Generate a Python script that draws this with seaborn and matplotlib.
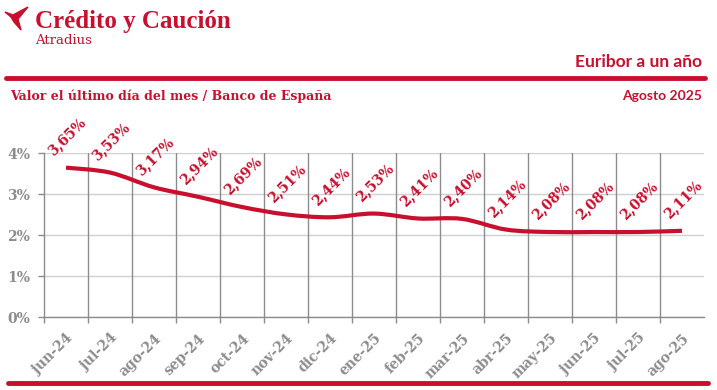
import numpy as np
import seaborn as sns
import matplotlib.pyplot as plt
from matplotlib.path import Path
from matplotlib.patches import PathPatch, Polygon
from matplotlib.lines import Line2D

sns.set_theme(style="white")

meses = ["jun-24", "jul-24", "ago-24", "sep-24", "oct-24", "nov-24", "dic-24", "ene-25",
         "feb-25", "mar-25", "abr-25", "may-25", "jun-25", "jul-25", "ago-25"]
euribor = [3.65, 3.53, 3.17, 2.94, 2.69, 2.51, 2.44, 2.53, 2.41, 2.40, 2.14, 2.08, 2.08, 2.08, 2.11]
y_ticks = [0, 1, 2, 3, 4]

rojo = "#c8102e"
gris = "#8c8c8c"
slab = "DejaVu Serif"
sans = "Lato"

W, H = 717, 390
fig = plt.figure(figsize=(W / 100, H / 100), dpi=100)
ax = fig.add_axes([44 / W, (H - 317.3) / H, 660 / W, 164 / H])

x = np.arange(len(meses))
# smoothed line (bezier, like a spreadsheet "smoothed line")
pts = np.column_stack([x, euribor]).astype(float)
ext = np.vstack([pts[0], pts, pts[-1]])
verts, codes = [pts[0]], [Path.MOVETO]
for i in range(len(pts) - 1):
    p0, p1, p2, p3 = ext[i], ext[i + 1], ext[i + 2], ext[i + 3]
    verts += [p1 + (p2 - p0) / 6, p2 - (p3 - p1) / 6, p2]
    codes += [Path.CURVE4] * 3
ax.add_patch(PathPatch(Path(verts, codes), fill=False, edgecolor=rojo, lw=3,
                       capstyle="butt", zorder=4))

for xi, v in zip(x, euribor):
    ax.annotate(f"{v:.2f}%".replace(".", ","), (xi, v), xytext=(1, 31),
                textcoords="offset pixels", rotation=45, ha="center", va="center",
                color=rojo, fontsize=10, fontweight="heavy", family=slab,
                annotation_clip=False, zorder=5)

ax.set_xlim(-0.5, len(meses) - 0.5)
ax.set_ylim(0, 4)
ax.set_yticks(y_ticks)
ax.set_yticklabels([f"{t}%" for t in y_ticks])
ax.set_xticks(x)
ax.set_xticklabels(meses, rotation=45, ha="right", rotation_mode="anchor")
ax.set_xticks(np.arange(-0.5, len(meses) - 0.5, 1), minor=True)

ax.yaxis.grid(True, color="#d0d0d0", lw=1)
for b in np.arange(0.5, len(meses) - 1, 1):
    ax.axvline(b, color=gris, lw=1, zorder=2)

sns.despine(ax=ax, top=True, right=True)
for s in ["left", "bottom"]:
    ax.spines[s].set_color(gris)
    ax.spines[s].set_linewidth(1)
ax.tick_params(axis="x", which="major", length=0, pad=10)
ax.tick_params(axis="x", which="minor", length=4, color=gris, width=1, bottom=True)
ax.tick_params(axis="y", length=4, color=gris, width=1, left=True, pad=6)
for lab in ax.get_xticklabels() + ax.get_yticklabels():
    lab.set_family(slab)
    lab.set_fontweight("bold")
    lab.set_color(gris)
    lab.set_fontsize(10)

# header
fig.text(35 / W, 1 - 28 / H, "Crédito y Caución", family="Liberation Serif",
         fontweight="bold", fontsize=18, color=rojo, va="baseline")
fig.text(35 / W, 1 - 44 / H, "Atradius", family=slab, fontsize=9.5,
         color=rojo, va="baseline")
logo = [(5, 12), (13, 15), (28, 7), (18, 19), (21, 30), (14, 22), (11, 17)]
fig.patches.append(Polygon([(px / W, 1 - py / H) for px, py in logo], closed=True,
                           transform=fig.transFigure, color=rojo, figure=fig))
fig.text(702 / W, 1 - 67 / H, "Euribor a un año", family=sans, fontweight="bold",
         fontsize=12.5, color=rojo, ha="right", va="baseline")
fig.lines.append(Line2D([6 / W, 705 / W], [1 - 78 / H, 1 - 78 / H], lw=3.5,
                        color=rojo, transform=fig.transFigure, figure=fig))
fig.text(10 / W, 1 - 100 / H, "Valor el último día del mes / Banco de España",
         family=slab, fontweight="bold", fontsize=9, color=rojo, va="baseline")
fig.text(702 / W, 1 - 100 / H, "Agosto 2025", family=sans, fontweight="bold",
         fontsize=10, color=rojo, ha="right", va="baseline")
fig.lines.append(Line2D([8 / W, 708 / W], [1 - 383 / H, 1 - 383 / H], lw=3.5,
                        color=rojo, transform=fig.transFigure, figure=fig))

fig.savefig("out.png", dpi=100)
